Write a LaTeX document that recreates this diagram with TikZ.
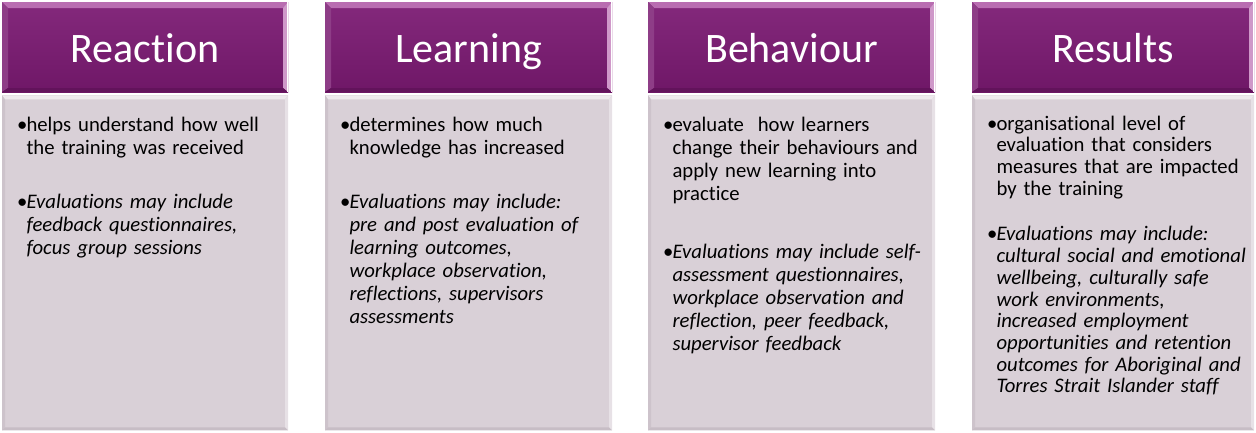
\documentclass[tikz,border=0pt]{standalone}
\usepackage{fontspec}
\setmainfont{Carlito}[Ligatures=NoCommon]
\usetikzlibrary{positioning}
\usepackage{xcolor}

\definecolor{cabtop}{HTML}{84297C}
\definecolor{cabbot}{HTML}{6F1767}
\definecolor{cabluz}{HTML}{B96DB1}
\definecolor{cabizq}{HTML}{8E3D87}
\definecolor{cabder}{HTML}{CF98C9}
\definecolor{cabsom}{HTML}{62135B}
\definecolor{cuerpo}{HTML}{D9D0D7}
\definecolor{cuerpoluz}{HTML}{EEE9ED}
\definecolor{cuerpoizq}{HTML}{CDC3CB}
\definecolor{cuerpoder}{HTML}{E7E1E6}
\definecolor{cuerposom}{HTML}{C7BDC5}

% punto con sangria francesa
\newcommand{\punto}[1]{\par\hangindent=9.5pt\hangafter=1\noindent\hbox to 9.5pt{\textbullet\hfil}#1\par}
\newcommand{\hueco}[1][31pt]{\vspace{#1}}

\tikzset{
  cabecera/.style={minimum width=286pt, minimum height=90pt, inner sep=0pt,
    text height=30pt, text depth=0pt, text=white, font=\fontsize{42}{48}\selectfont,
    top color=cabtop, bottom color=cabbot,
    path picture={
      \coordinate (nw) at (path picture bounding box.north west);
      \coordinate (ne) at (path picture bounding box.north east);
      \coordinate (sw) at (path picture bounding box.south west);
      \coordinate (se) at (path picture bounding box.south east);
      \fill[cabluz] (nw) -- (ne) -- ([shift={(-5pt,-6pt)}]ne) -- ([shift={(6pt,-6pt)}]nw) -- cycle;
      \fill[cabizq] (nw) -- ([shift={(6pt,-6pt)}]nw) -- ([shift={(6pt,4pt)}]sw) -- (sw) -- cycle;
      \fill[cabder] (ne) -- (se) -- ([shift={(-5pt,4pt)}]se) -- ([shift={(-5pt,-6pt)}]ne) -- cycle;
      \fill[cabsom] (sw) -- (se) -- ([shift={(-5pt,4pt)}]se) -- ([shift={(6pt,4pt)}]sw) -- cycle;
      \draw[white, line width=1.2pt] ([xshift=-0.6pt]ne) -- ([xshift=-0.6pt]se);
    }},
  cuerpobox/.style={minimum width=286pt, minimum height=335pt, inner sep=0pt, fill=cuerpo,
    path picture={
      \coordinate (nw) at (path picture bounding box.north west);
      \coordinate (ne) at (path picture bounding box.north east);
      \coordinate (sw) at (path picture bounding box.south west);
      \coordinate (se) at (path picture bounding box.south east);
      \fill[cuerpoluz] (nw) -- (ne) -- ([shift={(-3pt,-4pt)}]ne) -- ([shift={(3pt,-4pt)}]nw) -- cycle;
      \fill[cuerpoizq] (nw) -- ([shift={(3pt,-4pt)}]nw) -- ([shift={(3pt,3pt)}]sw) -- (sw) -- cycle;
      \fill[cuerpoder] (ne) -- (se) -- ([shift={(-3pt,3pt)}]se) -- ([shift={(-3pt,-4pt)}]ne) -- cycle;
      \fill[cuerposom] (sw) -- (se) -- ([shift={(-3pt,3pt)}]se) -- ([shift={(3pt,3pt)}]sw) -- cycle;
    }},
  texto/.style={anchor=north west, text width=272pt, align=left, inner sep=0pt,
    font=\fontsize{20.7}{23}\selectfont},
}

\begin{document}
\begin{tikzpicture}[x=1pt,y=1pt]
  \useasboundingbox (0,0) rectangle (1256,-432);

  % Cabeceras
  \node[cabecera] (reac) at (145,-47) {Reaction};
  \node[cabecera, minimum width=287pt] (lear) at (468.5,-47) {Learning};
  \node[cabecera, minimum width=287pt] (beha) at (791.5,-47) {Behaviour};
  \node[cabecera, minimum width=282pt] (resu) at (1113,-47) {Results};

  % Cuerpos
  \node[cuerpobox, below=3pt of reac] (reaccue) {};
  \node[cuerpobox, minimum width=287pt, below=3pt of lear] (learcue) {};
  \node[cuerpobox, minimum width=287pt, below=3pt of beha] (behacue) {};
  \node[cuerpobox, minimum width=282pt, below=3pt of resu] (resucue) {};

  % Textos
  \node[texto] (reactxt) at ([shift={(15pt,-13pt)}]reaccue.north west) {%
    \punto{helps understand how well\newline the training was received}\hueco
    \punto{{\itshape Evaluations may include\newline feedback questionnaires,\newline focus group sessions}}};
  \node[texto] (leartxt) at ([shift={(15pt,-13pt)}]learcue.north west) {%
    \punto{determines how much\newline knowledge has increased}\hueco
    \punto{{\itshape Evaluations may include:\newline pre and post evaluation of\newline learning outcomes,\newline workplace observation,\newline reflections, supervisors\newline assessments}}};
  \node[texto] (behatxt) at ([shift={(15pt,-13pt)}]behacue.north west) {%
    \punto{evaluate\ \ how learners\newline change their behaviours and\newline apply new learning into\newline practice}\hueco[35pt]
    \punto{{\itshape Evaluations may include self-\newline assessment questionnaires,\newline workplace observation and\newline reflection, peer feedback,\newline supervisor feedback}}};
  \node[texto, font=\fontsize{20.7}{21.7}\selectfont] (resutxt) at ([shift={(15pt,-13pt)}]resucue.north west) {%
    \punto{organisational level of\newline evaluation that considers\newline measures that are impacted\newline by the training}\hueco[24pt]
    \punto{{\itshape Evaluations may include:\newline cultural social and emotional\newline wellbeing, culturally safe\newline work environments,\newline increased employment\newline opportunities and retention\newline outcomes for Aboriginal and\newline Torres Strait Islander staff}}};
\end{tikzpicture}
\end{document}
